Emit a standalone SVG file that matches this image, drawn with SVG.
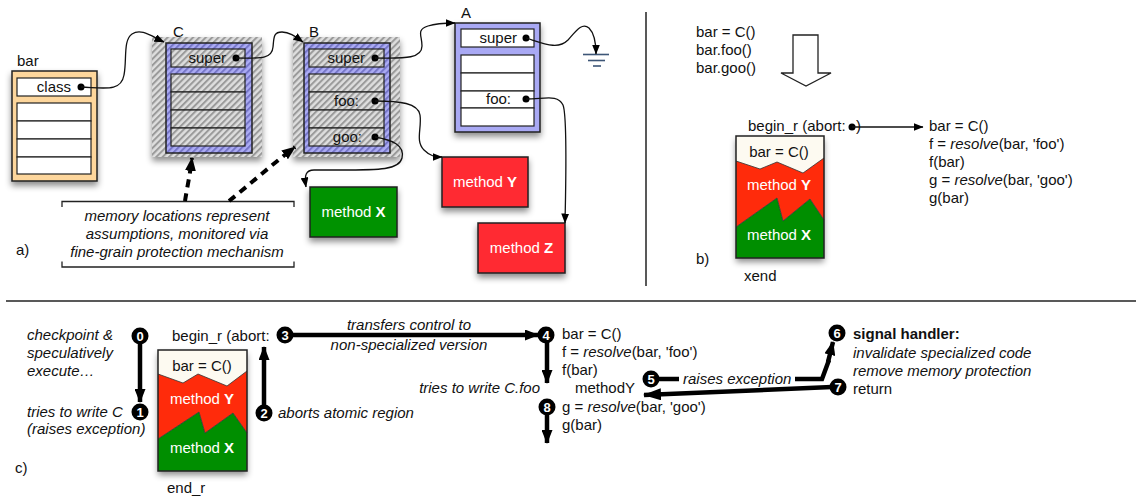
<svg xmlns="http://www.w3.org/2000/svg" width="1138" height="498" viewBox="0 0 1138 498">
  <defs>
    <style>
      text { font-family: "Liberation Sans", Arial, Helvetica, sans-serif; font-size: 15px; fill: #111; }
      .it { font-style: italic; }
      .bd { font-weight: bold; }
      .mid { text-anchor: middle; }
      .end { text-anchor: end; }
      .wt { fill: #fff; }
      .num { fill: #fff; font-weight: bold; font-size: 13px; text-anchor: middle; }
      .edge { fill: none; stroke: #111; stroke-width: 1.3; }
      .thick { fill: none; stroke: #000; stroke-width: 4.5; }
      .dash { fill: none; stroke: #000; stroke-width: 4; stroke-dasharray: 8 6; }
      .frame { stroke: #222; stroke-width: 1.5; }
      .slot { fill: #fff; stroke: #222; stroke-width: 1.2; }
      .hslot { fill: url(#hatchGray); stroke: #222; stroke-width: 1.2; }
      .zig { fill: none; stroke: #333; stroke-width: 0.8; }
      .dot { fill: #000; }
      .badge { fill: #000; }
      .rule { stroke: #222; stroke-width: 1.5; fill: none; }
      .ground { stroke: #3d5677; stroke-width: 1.6; }
    </style>
    <pattern id="hatchGray" width="4.5" height="4.5" patternUnits="userSpaceOnUse" patternTransform="rotate(45)">
      <rect width="4.5" height="4.5" fill="#dedede"/>
      <rect width="2" height="4.5" fill="#9a9a9a"/>
    </pattern>
    <pattern id="hatchBlue" width="4.5" height="4.5" patternUnits="userSpaceOnUse" patternTransform="rotate(45)">
      <rect width="4.5" height="4.5" fill="#acacf4"/>
      <rect width="2" height="4.5" fill="#7676c8"/>
    </pattern>
    <filter id="shadow" x="-20%" y="-20%" width="140%" height="150%">
      <feDropShadow dx="0" dy="4" stdDeviation="3" flood-color="#000" flood-opacity="0.45"/>
    </filter>
    <marker id="arr" markerUnits="userSpaceOnUse" markerWidth="10" markerHeight="8" refX="9.5" refY="4" orient="auto">
      <path d="M0,0 L10,4 L0,8 z" fill="#000"/>
    </marker>
    <marker id="arrBig" markerUnits="userSpaceOnUse" markerWidth="14" markerHeight="11" refX="13" refY="5.5" orient="auto">
      <path d="M0,0 L14,5.5 L0,11 z" fill="#000"/>
    </marker>
    <marker id="arrHuge" markerUnits="userSpaceOnUse" markerWidth="18" markerHeight="12" refX="17" refY="6" orient="auto">
      <path d="M0,0 L18,6 L0,12 z" fill="#000"/>
    </marker>
  </defs>

  <rect width="1138" height="498" fill="#fff"/>

  <!-- section rules -->
  <line class="rule" x1="646" y1="12" x2="646" y2="286"/>
  <line class="rule" x1="6" y1="301" x2="1136" y2="301"/>

  <!-- ===== a) object layout ===== -->
  <g id="obj-bar">
    <text x="17" y="66">bar</text>
    <rect x="12" y="71" width="85" height="110" fill="#fdd69c" class="frame" filter="url(#shadow)"/>
    <rect class="slot" x="17" y="78" width="74" height="18"/>
    <text class="end" x="71" y="92">class</text>
    <circle class="dot" cx="81" cy="87" r="3.5"/>
    <rect class="slot" x="17" y="103" width="74" height="18"/>
    <rect class="slot" x="17" y="121" width="74" height="18"/>
    <rect class="slot" x="17" y="139" width="74" height="18"/>
    <rect class="slot" x="17" y="157" width="74" height="17"/>
  </g>

  <g id="obj-C">
    <text x="173" y="37">C</text>
    <rect x="152" y="37" width="110" height="120" fill="url(#hatchGray)" filter="url(#shadow)"/>
    <rect x="166" y="43" width="86" height="110" fill="url(#hatchBlue)" class="frame"/>
    <rect class="hslot" x="171" y="49" width="74" height="18"/>
    <text class="end" x="226" y="63">super</text>
    <circle class="dot" cx="236" cy="58" r="3.5"/>
    <rect class="hslot" x="171" y="74" width="74" height="18"/>
    <rect class="hslot" x="171" y="92" width="74" height="18"/>
    <rect class="hslot" x="171" y="110" width="74" height="18"/>
    <rect class="hslot" x="171" y="128" width="74" height="18"/>
  </g>

  <g id="obj-B">
    <text x="309" y="37">B</text>
    <rect x="293" y="37" width="107" height="120" fill="url(#hatchGray)" filter="url(#shadow)"/>
    <rect x="304" y="43" width="86" height="110" fill="url(#hatchBlue)" class="frame"/>
    <rect class="hslot" x="309" y="49" width="75" height="18"/>
    <text class="end" x="365" y="63">super</text>
    <circle class="dot" cx="375" cy="58" r="3.5"/>
    <rect class="hslot" x="309" y="74" width="75" height="18"/>
    <rect class="hslot" x="309" y="92" width="75" height="18"/>
    <text class="end" x="359" y="106">foo:</text>
    <circle class="dot" cx="375" cy="101" r="3.5"/>
    <rect class="hslot" x="309" y="110" width="75" height="18"/>
    <rect class="hslot" x="309" y="128" width="75" height="18"/>
    <text class="end" x="362" y="142">goo:</text>
    <circle class="dot" cx="375" cy="137" r="3.5"/>
  </g>

  <g id="obj-A">
    <text x="461" y="18">A</text>
    <rect x="455" y="23" width="85" height="109" fill="#a9a9f4" class="frame" filter="url(#shadow)"/>
    <rect class="slot" x="461" y="29" width="73" height="18"/>
    <text class="end" x="517" y="43">super</text>
    <circle class="dot" cx="526" cy="38" r="3.5"/>
    <rect class="slot" x="461" y="55" width="73" height="18"/>
    <rect class="slot" x="461" y="73" width="73" height="18"/>
    <rect class="slot" x="461" y="91" width="73" height="17"/>
    <text class="end" x="511" y="104">foo:</text>
    <circle class="dot" cx="526" cy="99" r="3.5"/>
    <rect class="slot" x="461" y="108" width="73" height="18"/>
  </g>

  <g id="ground">
    <line class="ground" x1="583" y1="54.5" x2="609" y2="54.5"/>
    <line class="ground" x1="588" y1="60.5" x2="605" y2="60.5"/>
    <line class="ground" x1="593" y1="66" x2="601" y2="66"/>
  </g>

  <g id="method-X">
    <rect x="310" y="187" width="87" height="50" fill="#009200" class="frame" filter="url(#shadow)"/>
    <text class="mid wt" x="353.5" y="217">method <tspan class="bd">X</tspan></text>
  </g>
  <g id="method-Y">
    <rect x="442" y="157" width="86" height="50" fill="#ff2a33" class="frame" filter="url(#shadow)"/>
    <text class="mid wt" x="485" y="187">method <tspan class="bd">Y</tspan></text>
  </g>
  <g id="method-Z">
    <rect x="478" y="223" width="87" height="50" fill="#ff2a33" class="frame" filter="url(#shadow)"/>
    <text class="mid wt" x="521.5" y="253">method <tspan class="bd">Z</tspan></text>
  </g>

  <g id="note-a">
    <path class="rule" style="stroke-width:1.3" d="M62,207 L62,201.5 L294,201.5 L294,207 M62,261.5 L62,267 L294,267 L294,261.5"/>
    <text class="it mid" x="177" y="221">memory locations represent</text>
    <text class="it mid" x="177" y="239">assumptions, monitored via</text>
    <text class="it mid" x="177" y="257">fine-grain protection mechanism</text>
  </g>
  <text x="16" y="255">a)</text>

  <!-- a) connectors -->
  <g id="connectors-a">
    <path class="edge" marker-end="url(#arr)" d="M81,87 C105,88 121,92 124,75 C127,60 123,40 132,34 C141,28 151,36 164,42"/>
    <path class="edge" marker-end="url(#arr)" d="M236,58 C258,58 272,60 273,47 C274,38 273,32 282,32 C290,32 296,37 303,42"/>
    <path class="edge" marker-end="url(#arr)" d="M375,58 C400,58 422,60 422,46 C422,35 416,30 428,26 C437,23 445,23 455,23"/>
    <path class="edge" marker-end="url(#arr)" d="M375,101 C400,101 418,103 420,115 C422,128 415,141 424,150 C430,156 435,157 442,157"/>
    <path class="edge" marker-end="url(#arr)" d="M375,137 C392,140 405,145 402,158 C399,170 380,170 340,170 L314,170 C306,170 304,175 306,187"/>
    <path class="edge" marker-end="url(#arr)" d="M526,99 C545,99 558,94 563,105 C567,115 566,180 565,223"/>
    <path class="edge" marker-end="url(#arr)" d="M526,38 C545,44 558,50 568,40 C576,31 582,22 589,28 C594,33 596,42 596,54"/>
    <path class="dash" marker-end="url(#arrBig)" d="M185,201 C187,188 190,175 192,158"/>
    <path class="dash" marker-end="url(#arrBig)" d="M229,201 C248,186 270,166 295,147"/>
  </g>

  <!-- ===== b) compiled region ===== -->
  <g id="source-b">
    <text x="696" y="37">bar = C()</text>
    <text x="696" y="55">bar.foo()</text>
    <text x="696" y="73">bar.goo()</text>
  </g>
  <polygon id="down-arrow" points="793,35 818,35 818,73 831,73 806,86 781,73 793,73" fill="#fff" stroke="#222" stroke-width="1.3"/>

  <g id="region-b">
    <text x="748" y="131">begin_r (abort:</text>
    <text x="856" y="131">)</text>
    <rect x="736" y="136" width="88" height="122" fill="#fdfaf1" filter="url(#shadow)"/>
    <polygon points="736,161 760,169 777,162 803,173 824,158 824,220 810,199 783,221 777,198 736,227" fill="#ff2b0b"/>
    <polygon points="736,227 777,198 783,221 810,199 824,220 824,258 736,258" fill="#008e00"/>
    <polyline class="zig" points="736,161 760,169 777,162 803,173 824,158"/>
    <polyline class="zig" points="736,227 777,198 783,221 810,199 824,220"/>
    <rect x="736" y="136" width="88" height="122" fill="none" class="frame"/>
    <text class="mid" x="779" y="157">bar = C()</text>
    <text class="mid wt" x="779" y="190">method <tspan class="bd">Y</tspan></text>
    <text class="mid wt" x="779" y="240">method <tspan class="bd">X</tspan></text>
    <text x="744" y="281">xend</text>
  </g>
  <text x="696" y="264">b)</text>

  <g id="fallback-b">
    <text x="929" y="131">bar = C()</text>
    <text x="929" y="149">f = <tspan class="it">resolve</tspan>(bar, 'foo')</text>
    <text x="929" y="167">f(bar)</text>
    <text x="929" y="185">g = <tspan class="it">resolve</tspan>(bar, 'goo')</text>
    <text x="929" y="203">g(bar)</text>
  </g>

  <g id="connectors-b">
    <circle class="dot" cx="852" cy="127" r="3.5"/>
    <line class="edge" x1="852" y1="127" x2="923" y2="127" marker-end="url(#arr)"/>
  </g>

  <!-- ===== c) speculation walk-through ===== -->
  <g id="notes-c">
    <text class="it" x="27" y="340">checkpoint &amp;</text>
    <text class="it" x="27" y="358">speculatively</text>
    <text class="it" x="27" y="376">execute…</text>
    <text class="it" x="27" y="417">tries to write C</text>
    <text class="it" x="27" y="434">(raises exception)</text>
    <text class="it" x="278" y="418">aborts atomic region</text>
    <text class="it mid" x="409" y="330">transfers control to</text>
    <text class="it mid" x="409" y="350">non-specialized version</text>
    <text class="it end" x="540" y="393">tries to write C.foo</text>
    <text class="it" x="683" y="384">raises exception</text>
  </g>
  <text x="15" y="473">c)</text>

  <g id="region-c">
    <text x="172" y="341">begin_r (abort:</text>
    <rect x="158" y="350" width="89" height="121" fill="#fdfaf1" filter="url(#shadow)"/>
    <polygon points="158,374 183,383 198,374 227,386 247,371 247,433 233,413 205,433 199,412 158,439" fill="#ff2b0b"/>
    <polygon points="158,439 199,412 205,433 233,413 247,433 247,471 158,471" fill="#008e00"/>
    <polyline class="zig" points="158,374 183,383 198,374 227,386 247,371"/>
    <polyline class="zig" points="158,439 199,412 205,433 233,413 247,433"/>
    <rect x="158" y="350" width="89" height="121" fill="none" class="frame"/>
    <text class="mid" x="202" y="371">bar = C()</text>
    <text class="mid wt" x="202" y="404">method <tspan class="bd">Y</tspan></text>
    <text class="mid wt" x="202" y="453">method <tspan class="bd">X</tspan></text>
    <text x="167" y="493">end_r</text>
  </g>

  <g id="fallback-c">
    <text x="562" y="339">bar = C()</text>
    <text x="562" y="357">f = <tspan class="it">resolve</tspan>(bar, 'foo')</text>
    <text x="562" y="375">f(bar)</text>
    <text x="575" y="393">methodY</text>
    <text x="562" y="412">g = <tspan class="it">resolve</tspan>(bar, 'goo')</text>
    <text x="562" y="430">g(bar)</text>
  </g>

  <g id="handler-c">
    <text class="bd" x="853" y="339">signal handler:</text>
    <text class="it" x="853" y="358">invalidate specialized code</text>
    <text class="it" x="853" y="376">remove memory protection</text>
    <text x="853" y="394">return</text>
  </g>

  <g id="connectors-c">
    <line class="thick" x1="140" y1="342" x2="140" y2="402" marker-end="url(#arrBig)"/>
    <line class="thick" x1="264" y1="406" x2="264" y2="347" marker-end="url(#arrBig)"/>
    <line class="thick" x1="290" y1="335" x2="538" y2="335" marker-end="url(#arrBig)"/>
    <line class="thick" x1="547" y1="341" x2="547" y2="383" marker-end="url(#arrBig)"/>
    <line class="thick" x1="547" y1="413" x2="547" y2="443" marker-end="url(#arrBig)"/>
    <line class="thick" x1="655" y1="379" x2="679" y2="379"/>
    <polyline class="thick" points="795,379 822,379 829,360" />
    <line class="thick" x1="828" y1="362" x2="833" y2="342" marker-end="url(#arrBig)"/>
    <line class="thick" x1="832" y1="387" x2="644" y2="395" marker-end="url(#arrHuge)"/>
  </g>

  <g id="steps-c">
    <g id="step-0"><circle class="badge" cx="140" cy="336" r="8.5"/><text class="num" x="140" y="341">0</text></g>
    <g id="step-1"><circle class="badge" cx="140" cy="412" r="8.5"/><text class="num" x="140" y="417">1</text></g>
    <g id="step-2"><circle class="badge" cx="264" cy="413" r="8.5"/><text class="num" x="264" y="418">2</text></g>
    <g id="step-3"><circle class="badge" cx="285" cy="335" r="8.5"/><text class="num" x="285" y="340">3</text></g>
    <g id="step-4"><circle class="badge" cx="546" cy="335" r="8.5"/><text class="num" x="546" y="340">4</text></g>
    <g id="step-5"><circle class="badge" cx="651" cy="379" r="8.5"/><text class="num" x="651" y="384">5</text></g>
    <g id="step-6"><circle class="badge" cx="837" cy="333" r="8.5"/><text class="num" x="837" y="338">6</text></g>
    <g id="step-7"><circle class="badge" cx="838" cy="387" r="8.5"/><text class="num" x="838" y="392">7</text></g>
    <g id="step-8"><circle class="badge" cx="547" cy="407" r="8.5"/><text class="num" x="547" y="412">8</text></g>
  </g>
</svg>
